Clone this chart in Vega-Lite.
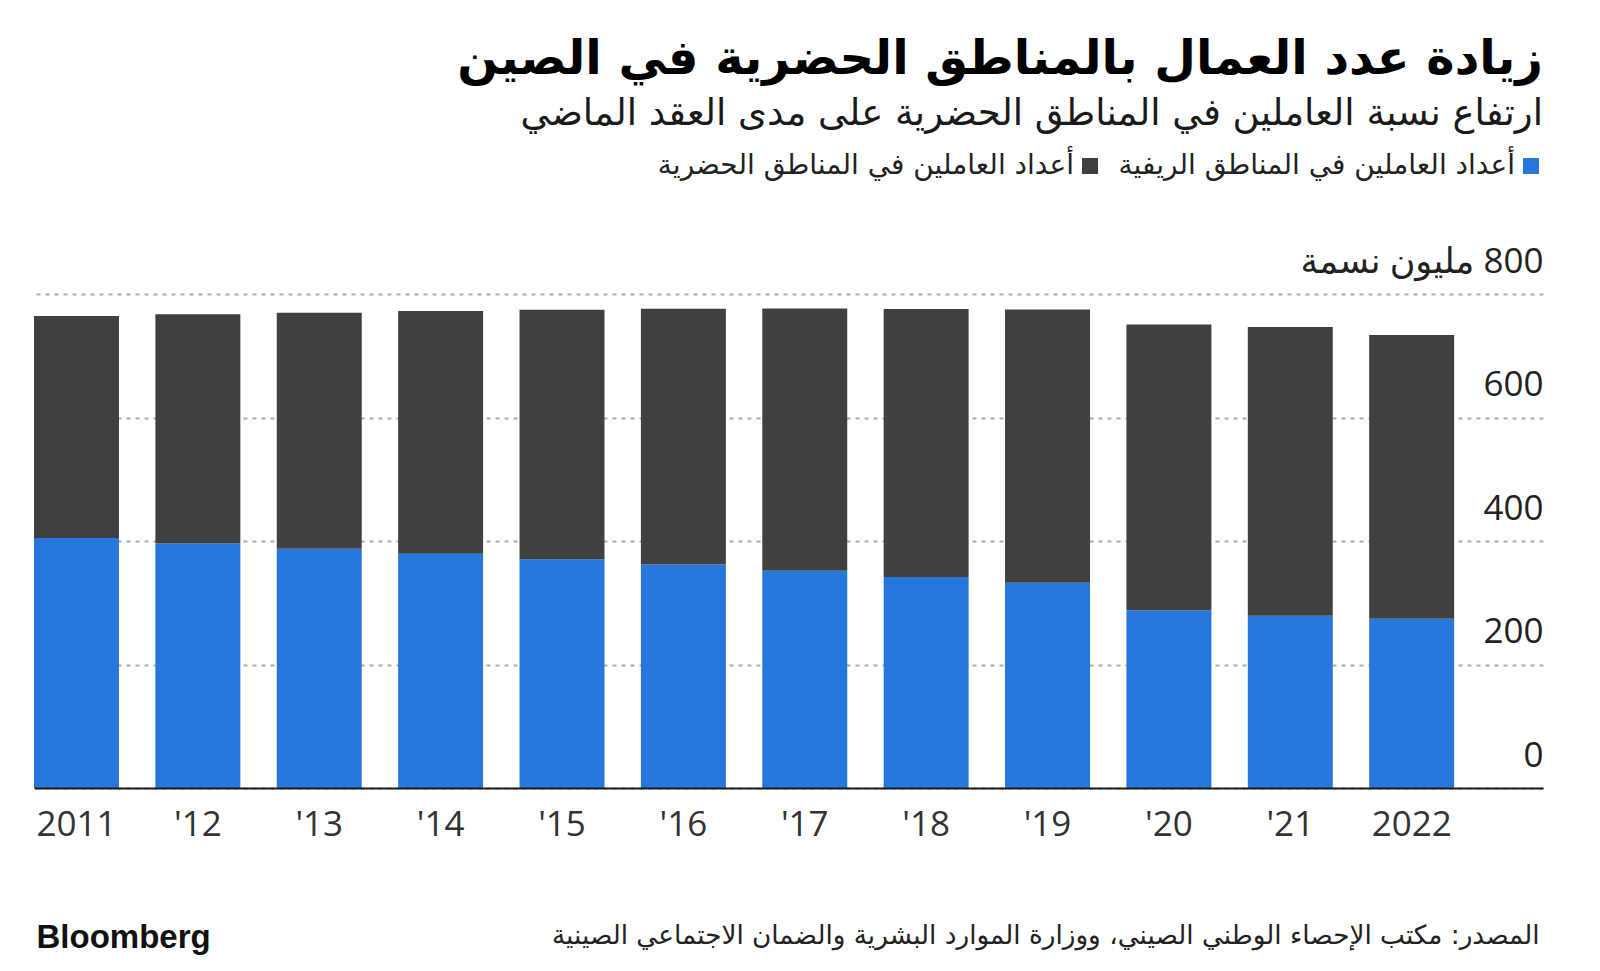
{
  "$schema": "https://vega.github.io/schema/vega-lite/v6.json",
  "width": 1509,
  "height": 494,
  "autosize": {"type": "none"},
  "padding": {"left": 34, "top": 294, "right": 57, "bottom": 183},
  "background": "white",
  "title": {
    "text": "زيادة عدد العمال بالمناطق الحضرية في الصين",
    "subtitle": "ارتفاع نسبة العاملين في المناطق الحضرية على مدى العقد الماضي",
    "anchor": "end",
    "frame": "group",
    "orient": "top",
    "font": "DejaVu Sans",
    "fontSize": 48,
    "fontWeight": "bold",
    "color": "#000000",
    "subtitleFont": "DejaVu Sans",
    "subtitleFontSize": 37,
    "subtitleColor": "#1a1a1a",
    "subtitlePadding": 12,
    "offset": 20
  },
  "data": {
    "values": [
      {"year": "2011", "type": "أعداد العاملين في المناطق الريفية", "value": 405.06},
      {"year": "2011", "type": "أعداد العاملين في المناطق الحضرية", "value": 359.14},
      {"year": "2012", "type": "أعداد العاملين في المناطق الريفية", "value": 396.02},
      {"year": "2012", "type": "أعداد العاملين في المناطق الحضرية", "value": 371.02},
      {"year": "2013", "type": "أعداد العاملين في المناطق الريفية", "value": 387.37},
      {"year": "2013", "type": "أعداد العاملين في المناطق الحضرية", "value": 382.40},
      {"year": "2014", "type": "أعداد العاملين في المناطق الريفية", "value": 379.43},
      {"year": "2014", "type": "أعداد العاملين في المناطق الحضرية", "value": 393.10},
      {"year": "2015", "type": "أعداد العاملين في المناطق الريفية", "value": 370.41},
      {"year": "2015", "type": "أعداد العاملين في المناطق الحضرية", "value": 404.10},
      {"year": "2016", "type": "أعداد العاملين في المناطق الريفية", "value": 361.75},
      {"year": "2016", "type": "أعداد العاملين في المناطق الحضرية", "value": 414.28},
      {"year": "2017", "type": "أعداد العاملين في المناطق الريفية", "value": 351.78},
      {"year": "2017", "type": "أعداد العاملين في المناطق الحضرية", "value": 424.62},
      {"year": "2018", "type": "أعداد العاملين في المناطق الريفية", "value": 341.67},
      {"year": "2018", "type": "أعداد العاملين في المناطق الحضرية", "value": 434.19},
      {"year": "2019", "type": "أعداد العاملين في المناطق الريفية", "value": 332.24},
      {"year": "2019", "type": "أعداد العاملين في المناطق الحضرية", "value": 442.47},
      {"year": "2020", "type": "أعداد العاملين في المناطق الريفية", "value": 287.93},
      {"year": "2020", "type": "أعداد العاملين في المناطق الحضرية", "value": 462.71},
      {"year": "2021", "type": "أعداد العاملين في المناطق الريفية", "value": 278.79},
      {"year": "2021", "type": "أعداد العاملين في المناطق الحضرية", "value": 467.73},
      {"year": "2022", "type": "أعداد العاملين في المناطق الريفية", "value": 274.20},
      {"year": "2022", "type": "أعداد العاملين في المناطق الحضرية", "value": 459.31}
    ]
  },
  "layer": [
    {
      "mark": {"type": "bar"},
      "encoding": {
        "x": {
          "field": "year",
          "type": "ordinal",
          "scale": {"paddingInner": 0.3, "paddingOuter": 0.366, "align": 0},
          "axis": {
            "orient": "bottom",
            "title": "المصدر: مكتب الإحصاء الوطني الصيني، ووزارة الموارد البشرية والضمان الاجتماعي الصينية",
            "domain": true,
            "domainColor": "#1a1a1a",
            "domainWidth": 2,
            "ticks": false,
            "tickSize": 0,
            "grid": false,
            "labelAngle": 0,
            "labelPadding": 47,
            "labelBaseline": "alphabetic",
            "labelFont": "Open Sans",
            "labelFontSize": 35,
            "labelColor": "#333333",
            "labelExpr": "datum.value == '2011' || datum.value == '2022' ? datum.value : \"'\" + substring(datum.value, 2, 4)",
            "titleAnchor": "end",
            "titleAlign": "right",
            "titleBaseline": "alphabetic",
            "titleX": 1505,
            "titleY": 155,
            "titleFont": "DejaVu Sans",
            "titleFontSize": 26.3,
            "titleFontWeight": "normal",
            "titleColor": "#222222",
            "titleLimit": 1400,
            "zindex": 1
          }
        },
        "y": {
          "field": "value",
          "type": "quantitative",
          "stack": "zero",
          "scale": {"domain": [0, 800], "nice": false},
          "axis": {
            "orient": "right",
            "values": [0, 200, 400, 600, 800],
            "title": null,
            "grid": true,
            "gridDash": [4, 5],
            "gridColor": "#aaaaaa",
            "gridWidth": 2,
            "domain": false,
            "ticks": false,
            "tickSize": 0,
            "labelAlign": "right",
            "labelPadding": 0,
            "labelBaseline": "alphabetic",
            "labelOffset": -22,
            "labelFont": "Open Sans, DejaVu Sans",
            "labelFontSize": 35,
            "labelColor": "#222222",
            "labelLimit": 500,
            "labelExpr": "datum.value == 800 ? 'مليون نسمة‎ 800' : datum.label"
          }
        },
        "color": {
          "field": "type",
          "type": "nominal",
          "scale": {
            "domain": ["أعداد العاملين في المناطق الحضرية", "أعداد العاملين في المناطق الريفية"],
            "range": ["#404040", "#2577dc"]
          },
          "legend": {
            "orient": "none",
            "legendX": 1042,
            "legendY": -142,
            "direction": "horizontal",
            "title": null,
            "symbolType": "square",
            "symbolSize": 256,
            "symbolStrokeWidth": 0,
            "symbolOpacity": 1,
            "labelFont": "DejaVu Sans",
            "labelFontSize": 28,
            "labelColor": "#222222",
            "labelAlign": "right",
            "labelOffset": -30,
            "columnPadding": 20,
            "labelLimit": 600
          }
        },
        "order": {"field": "type", "sort": "descending"}
      }
    },
    {
      "mark": {"type": "bar", "opacity": 0},
      "encoding": {
        "x": {
          "field": "year",
          "type": "ordinal",
          "scale": {"paddingInner": 0.3, "paddingOuter": 0.366, "align": 0},
          "axis": {
            "orient": "bottom",
            "title": "المصدر: مكتب الإحصاء الوطني الصيني، ووزارة الموارد البشرية والضمان الاجتماعي الصينية",
            "domain": true,
            "domainColor": "#1a1a1a",
            "domainWidth": 2,
            "ticks": false,
            "tickSize": 0,
            "grid": false,
            "labelAngle": 0,
            "labelPadding": 47,
            "labelBaseline": "alphabetic",
            "labelFont": "Open Sans",
            "labelFontSize": 35,
            "labelColor": "#333333",
            "labelExpr": "datum.value == '2011' || datum.value == '2022' ? datum.value : \"'\" + substring(datum.value, 2, 4)",
            "titleAnchor": "end",
            "titleAlign": "right",
            "titleBaseline": "alphabetic",
            "titleX": 1505,
            "titleY": 155,
            "titleFont": "DejaVu Sans",
            "titleFontSize": 26.3,
            "titleFontWeight": "normal",
            "titleColor": "#222222",
            "titleLimit": 1400,
            "zindex": 1
          }
        },
        "y": {
          "field": "value",
          "type": "quantitative",
          "stack": "zero",
          "scale": {"domain": [0, 800], "nice": false},
          "axis": {
            "orient": "left",
            "title": "Bloomberg",
            "labels": false,
            "ticks": false,
            "domain": false,
            "grid": false,
            "titleAngle": 0,
            "titleAlign": "left",
            "titleBaseline": "alphabetic",
            "titleX": 2,
            "titleY": 653,
            "titleFont": "Liberation Sans",
            "titleFontSize": 33,
            "titleFontWeight": "bold",
            "titleColor": "#111111"
          }
        }
      }
    }
  ],
  "resolve": {"axis": {"y": "independent"}},
  "config": {
    "view": {"stroke": null}
  }
}
